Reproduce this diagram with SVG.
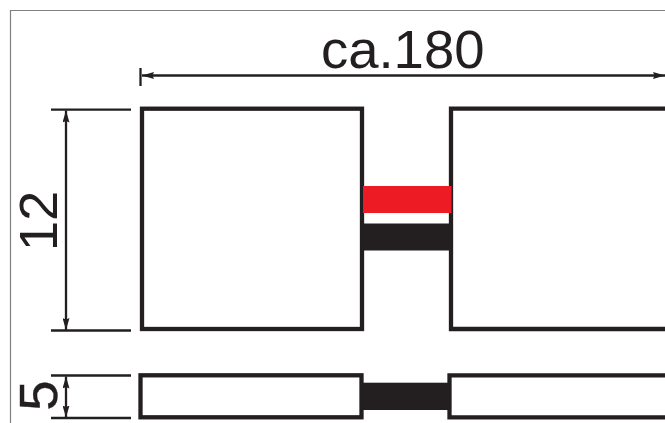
<svg xmlns="http://www.w3.org/2000/svg" width="665" height="423" viewBox="0 0 665 423">
<style>
.box{fill:#fff;stroke:#231f20;stroke-width:4.300}
.dim{fill:none;stroke:#231f20;stroke-width:2.300}
.txt{font-family:"Liberation Sans",Arial,sans-serif;font-size:54.500px;fill:#231f20}
</style>
<defs>
<marker id="a" viewBox="0 0 12 7" refX="12" refY="3.500" markerWidth="12" markerHeight="7" markerUnits="userSpaceOnUse" orient="auto-start-reverse"><path d="M0 0L12 3.500L0 7L1.500 3.500z" fill="#231f20"/></marker>
</defs>
<rect width="665" height="423" fill="#fff"/>
<path d="M10.500 423V10.500H665" fill="none" stroke="#808080" stroke-width="1.200"/>
<g id="top-left-plate"><rect class="box" x="142" y="108.700" width="220" height="220.300"/></g>
<g id="top-right-plate"><path class="box" d="M666 108.700H451V329H666"/></g>
<g id="bottom-left-plate"><rect class="box" x="140.500" y="375.300" width="221" height="42"/></g>
<g id="bottom-right-plate"><path class="box" d="M666 375.300H449.500V417.300H666"/></g>
<g id="bars">
<rect x="363" y="186" width="88.500" height="27" fill="#ed1c24"/>
<rect x="364" y="223.500" width="87" height="27" fill="#231f20"/>
<rect x="360" y="382.700" width="89" height="27.300" fill="#231f20"/>
</g>
<g id="connectors">
<path class="dim" d="M142 75.500H665" marker-start="url(#a)" marker-end="url(#a)"/>
<path class="dim" d="M140.500 68V86"/>
<path class="dim" d="M66 110.500V330" marker-start="url(#a)" marker-end="url(#a)"/>
<path class="dim" d="M51 109.700H131M51 330.500H131M51 375.500H131M51 418H131"/>
<path class="dim" d="M66 376.500V417.500" marker-start="url(#a)" marker-end="url(#a)"/>
</g>
<g id="labels">
<text class="txt" x="402.700" y="67.700" text-anchor="middle">ca.180</text>
<text class="txt" transform="translate(57.300 221) rotate(-90)" text-anchor="middle">12</text>
<text class="txt" transform="translate(57.300 395.500) rotate(-90)" text-anchor="middle" stroke="#231f20" stroke-width="0.400">5</text>
</g>
</svg>
